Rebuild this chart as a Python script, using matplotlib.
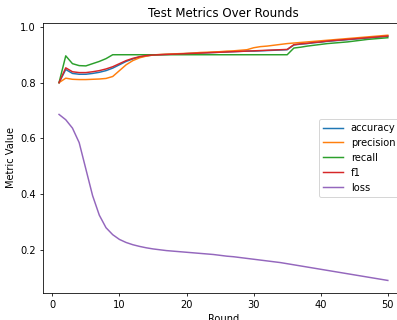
#!/usr/bin/env python3
"""Test metrics over federated rounds: accuracy, precision, recall, f1 and loss."""

import matplotlib

matplotlib.use("Agg")
import matplotlib.pyplot as plt

rounds = list(range(1, 51))

accuracy = [
    0.800, 0.847, 0.833, 0.830, 0.830, 0.833, 0.837, 0.843, 0.852, 0.864,
    0.876, 0.885, 0.892, 0.896, 0.899, 0.900, 0.901, 0.902, 0.903, 0.904,
    0.905, 0.906, 0.907, 0.908, 0.909, 0.910, 0.911, 0.912, 0.913, 0.913,
    0.914, 0.915, 0.916, 0.917, 0.918, 0.935, 0.938, 0.940, 0.943, 0.945,
    0.948, 0.950, 0.952, 0.954, 0.956, 0.958, 0.960, 0.962, 0.964, 0.966,
]
precision = [
    0.800, 0.816, 0.812, 0.811, 0.811, 0.812, 0.813, 0.815, 0.822, 0.843,
    0.864, 0.879, 0.889, 0.895, 0.899, 0.901, 0.902, 0.903, 0.904, 0.905,
    0.906, 0.908, 0.909, 0.910, 0.911, 0.913, 0.914, 0.916, 0.918, 0.925,
    0.929, 0.931, 0.934, 0.937, 0.940, 0.942, 0.944, 0.946, 0.948, 0.950,
    0.952, 0.954, 0.956, 0.958, 0.960, 0.962, 0.964, 0.966, 0.968, 0.970,
]
recall = [
    0.800, 0.896, 0.868, 0.861, 0.860, 0.868, 0.876, 0.886, 0.900, 0.900,
    0.900, 0.900, 0.900, 0.900, 0.900, 0.900, 0.900, 0.900, 0.900, 0.900,
    0.900, 0.900, 0.900, 0.900, 0.900, 0.900, 0.900, 0.900, 0.900, 0.900,
    0.900, 0.900, 0.900, 0.900, 0.900, 0.924, 0.927, 0.931, 0.934, 0.937,
    0.940, 0.942, 0.944, 0.946, 0.949, 0.952, 0.955, 0.957, 0.959, 0.961,
]
f1 = [
    0.800, 0.853, 0.839, 0.836, 0.836, 0.839, 0.843, 0.849, 0.857, 0.868,
    0.879, 0.887, 0.893, 0.897, 0.899, 0.900, 0.901, 0.902, 0.903, 0.904,
    0.905, 0.906, 0.907, 0.908, 0.909, 0.910, 0.911, 0.912, 0.913, 0.914,
    0.915, 0.916, 0.917, 0.918, 0.919, 0.936, 0.939, 0.941, 0.944, 0.946,
    0.949, 0.951, 0.953, 0.955, 0.957, 0.959, 0.961, 0.963, 0.965, 0.967,
]
loss = [
    0.686, 0.667, 0.637, 0.585, 0.490, 0.395, 0.325, 0.280, 0.255, 0.238,
    0.227, 0.219, 0.213, 0.208, 0.204, 0.201, 0.198, 0.196, 0.194, 0.192,
    0.190, 0.188, 0.186, 0.184, 0.181, 0.178, 0.176, 0.173, 0.170, 0.167,
    0.164, 0.161, 0.158, 0.155, 0.151, 0.147, 0.143, 0.139, 0.135, 0.131,
    0.127, 0.123, 0.119, 0.115, 0.111, 0.107, 0.103, 0.099, 0.095, 0.091,
]

series = {
    "accuracy": accuracy,
    "precision": precision,
    "recall": recall,
    "f1": f1,
    "loss": loss,
}

DPI = 71
fig = plt.figure(figsize=(397 / DPI, 320 / DPI), dpi=DPI)
# the reference is a crop of a bigger figure: the right spine and
# the x label fall outside the picture
ax = fig.add_axes([0.1073, 0.0853, 0.911, 0.843])

for name, values in series.items():
    ax.plot(rounds, values, label=name)

ax.set_title("Test Metrics Over Rounds")
ax.set_xlabel("Round")
ax.set_ylabel("Metric Value")
ax.legend(loc="center right")

fig.savefig("out.png", dpi=DPI)
